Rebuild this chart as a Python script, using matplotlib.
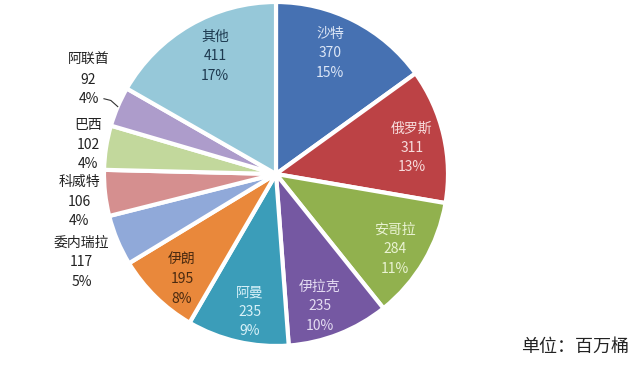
import numpy as np
import matplotlib
matplotlib.use("Agg")
import matplotlib.pyplot as plt

plt.rcParams['font.family'] = ['Noto Sans CJK SC', 'DejaVu Sans']

countries = ['沙特', '俄罗斯', '安哥拉', '伊拉克', '阿曼', '伊朗',
             '委内瑞拉', '科威特', '巴西', '阿联酋', '其他']
values = [370, 311, 284, 235, 235, 195, 117, 106, 102, 92, 411]
percents = ['15%', '13%', '11%', '10%', '9%', '8%', '5%', '4%', '4%', '4%', '17%']

colors = ['#4671B2', '#BC4245', '#91B14E', '#7558A2', '#3B9DB9', '#E9883B',
          '#90A9D9', '#D58F8F', '#C2D89C', '#AD9CCB', '#96C8D9']
text_colors = ['#DCE6F6', '#F7DCDC', '#EAF3D3', '#E4DCF2', '#D8F1F8', '#4A2A10',
               '#222222', '#222222', '#222222', '#222222', '#1E3A50']
# label radius (in pie radii) and clockwise angular nudge (degrees)
label_r = [0.77, 0.805, 0.82, 0.81, 0.816, 0.82, 1.24, 1.157, 1.106, 1.22, 0.77]
label_nudge = [-3.1, 2.2, 1.7, 3.1, -2.3, -2.7, -1.7, -1.7, 0.0, 3.6, 2.8]

W, H = 640, 367
cx, cy, R = 276, 174, 172

fig = plt.figure(figsize=(W / 100, H / 100), dpi=100)
ax = fig.add_axes([0, 0, 1, 1])

wedges, _ = ax.pie(values, colors=colors, startangle=90, counterclock=False,
                   radius=1.0, wedgeprops=dict(edgecolor='white', linewidth=3))

# place the unit circle so the pie sits left of centre
ax.set_xlim(-cx / R, (W - cx) / R)
ax.set_ylim((cy - H) / R, cy / R)
ax.set_aspect('equal')
ax.axis('off')

for w, name, val, pct, tc, r, nd in zip(wedges, countries, values, percents,
                                        text_colors, label_r, label_nudge):
    mid = np.deg2rad((w.theta1 + w.theta2) / 2 - nd)
    x, y = r * np.cos(mid), r * np.sin(mid)
    ax.text(x, y, f'{name}\n{val}\n{pct}', ha='center', va='center',
            fontsize=10, color=tc, linespacing=1.5)
    if name == '阿联酋':
        emid = np.deg2rad((w.theta1 + w.theta2) / 2)
        ex, ey = np.cos(emid), np.sin(emid)
        tx, ty = x + 0.09, y - 0.11
        ax.plot([tx, tx + 0.04, ex], [ty, ty - 0.01, ey], color='#333333', lw=0.8)

fig.text(521 / W, 1 - 352 / H, '单位：百万桶', fontsize=13, color='#222222',
         ha='left', va='baseline')

fig.savefig('out.png', dpi=100, facecolor='white')
